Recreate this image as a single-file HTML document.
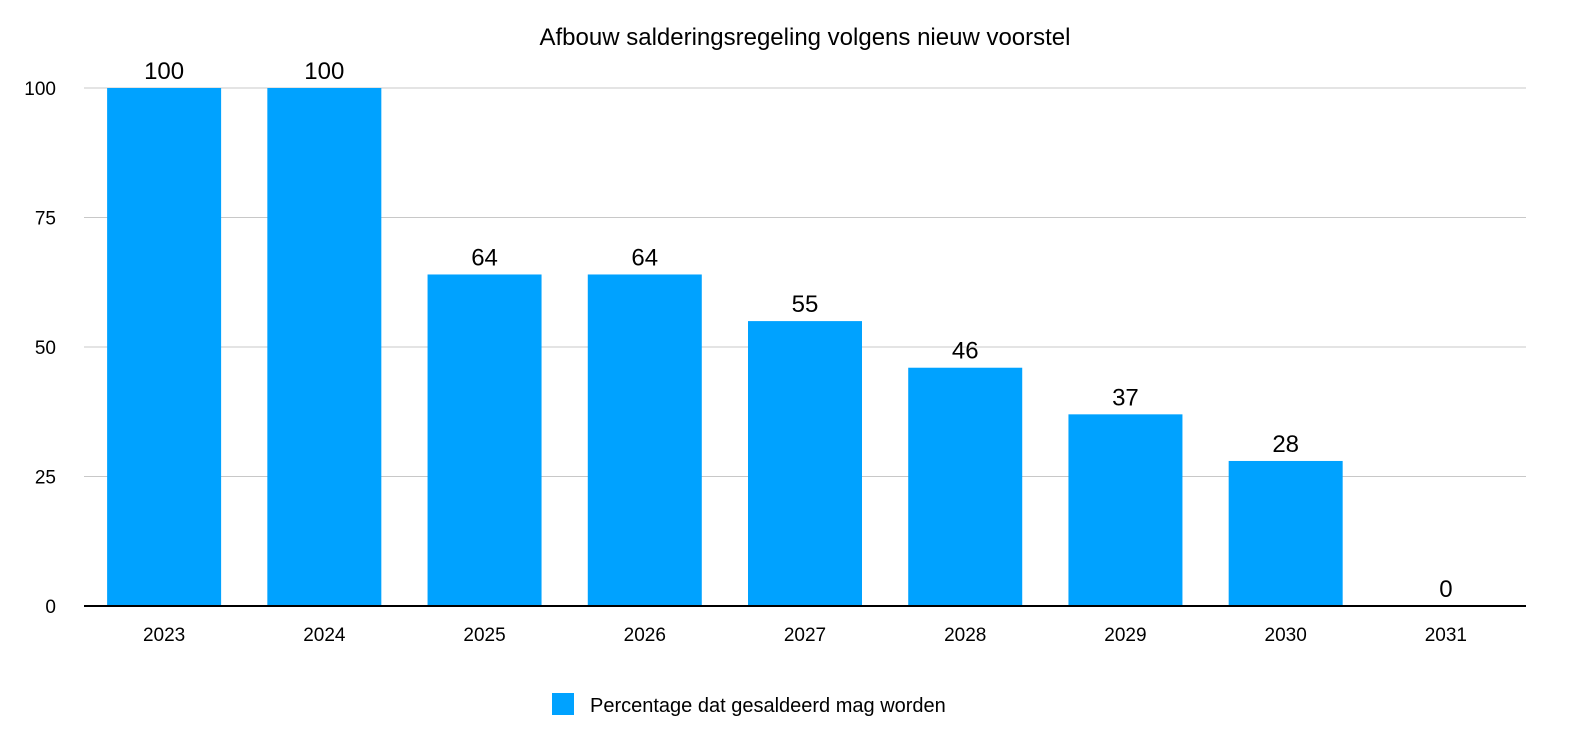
<!DOCTYPE html>
<html><head><meta charset="utf-8"><style>
body{margin:0;background:#fff;}
svg{display:block;font-family:"Liberation Sans",Arial,sans-serif;}
</style></head><body>
<svg id="chart" width="1578" height="746">
<text x="805" y="45" text-anchor="middle" font-size="24" fill="#000">Afbouw salderingsregeling volgens nieuw voorstel</text>
<g id="grid"></g><g id="bars"></g><g id="labels"></g>
<g>
<rect x="552" y="693" width="22" height="22" fill="#00A2FF"/>
<text x="590" y="712" font-size="20" fill="#000">Percentage dat gesaldeerd mag worden</text>
</g>
</svg>
<script>
const categories=["2023","2024","2025","2026","2027","2028","2029","2030","2031"];
const values=[100,100,64,64,55,46,37,28,0];
const yTicks=[0,25,50,75,100];
const NS="http://www.w3.org/2000/svg";
const x0=84,x1=1526,yTop=88,yBot=606,yMax=100;
const band=(x1-x0)/categories.length,bw=114;
function y(v){return yBot-(v/yMax)*(yBot-yTop);}
function xc(i){return x0+band*(i+0.5);}
function mk(t,a,p){const e=document.createElementNS(NS,t);for(const k in a)e.setAttribute(k,a[k]);p.appendChild(e);return e;}
const grid=document.getElementById('grid'),bars=document.getElementById('bars'),labels=document.getElementById('labels');
yTicks.forEach(t=>{
 if(t>0){const l=mk('line',{x1:x0,x2:x1,y1:y(t),y2:y(t),stroke:'#c8c8c8','stroke-width':1},grid);
 
 }
 const tx=mk('text',{x:56,y:y(t)+7,'text-anchor':'end','font-size':19,fill:'#000'},grid);tx.textContent=t;
 
 
});
categories.forEach((c,i)=>{
 const v=values[i];
 if(v>0){const r=mk('rect',{x:xc(i)-bw/2,y:y(v),width:bw,height:yBot-y(v),fill:'#00A2FF'},bars);
 
 }
 const vl=mk('text',{x:xc(i),y:y(v)-9,'text-anchor':'middle','font-size':24,fill:'#000'},labels);vl.textContent=v;
 
 
 const cl=mk('text',{x:xc(i),y:641,'text-anchor':'middle','font-size':19,fill:'#000'},labels);cl.textContent=c;
 
 
});
const ax=mk('line',{x1:x0,x2:x1,y1:yBot,y2:yBot,stroke:'#000','stroke-width':2},labels);


</script>
</body></html>
